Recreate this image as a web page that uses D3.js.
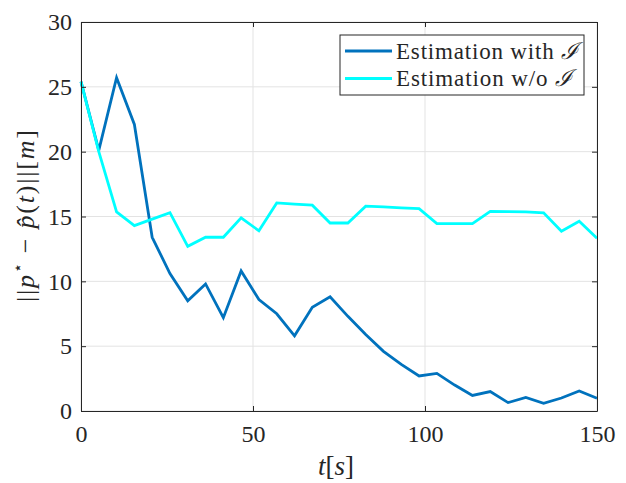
<!DOCTYPE html>
<html>
<head>
<meta charset="utf-8">
<script src="https://cdn.jsdelivr.net/npm/d3@7"></script>
<style>
  body { margin: 0; background: #fff; }
</style>
</head>
<body>
<div id="chart"></div>
<script>
const times = [0, 5.17, 10.34, 15.52, 20.69, 25.86, 31.03, 36.21, 41.38, 46.55,
  51.72, 56.90, 62.07, 67.24, 72.41, 77.59, 82.76, 87.93, 93.10, 98.28,
  103.45, 108.62, 113.79, 118.97, 124.14, 129.31, 134.48, 139.66, 144.83, 150];

const withI = [25.4, 20.1, 25.7, 22.1, 13.4, 10.6, 8.5, 9.8, 7.2, 10.8,
  8.6, 7.5, 5.8, 8.0, 8.8, 7.3, 5.9, 4.6, 3.6, 2.7,
  2.9, 2.0, 1.2, 1.5, 0.65, 1.05, 0.6, 1.0, 1.55, 0.98];

const withoutI = [25.4, 20.0, 15.35, 14.3, 14.8, 15.3, 12.7, 13.4, 13.4, 14.9,
  13.9, 16.05, 15.95, 15.87, 14.5, 14.5, 15.8, 15.75, 15.66, 15.6,
  14.45, 14.45, 14.45, 15.4, 15.38, 15.35, 15.28, 13.87, 14.63, 13.33];

const xTicks = [0, 50, 100, 150];
const yTicks = [0, 5, 10, 15, 20, 25, 30];
const seriesNames = ["Estimation with ", "Estimation w/o "];
const seriesColors = ["#0072bd", "#00ffff"];

const W = 626, H = 483;
const margin = { top: 22, right: 29, bottom: 72, left: 81 };
const iw = W - margin.left - margin.right;
const ih = H - margin.top - margin.bottom;
const font = "Liberation Serif";
const ink = "#262626";

const svg = d3.select("#chart").append("svg")
  .attr("width", W).attr("height", H);

const g = svg.append("g").attr("transform", `translate(${margin.left},${margin.top})`);

const x = d3.scaleLinear().domain([0, 150]).range([0, iw]);
const y = d3.scaleLinear().domain([0, 30]).range([ih, 0]);

// grid
g.append("g").selectAll("line").data(xTicks).enter().append("line")
  .attr("x1", d => x(d)).attr("x2", d => x(d))
  .attr("y1", 0).attr("y2", ih)
  .attr("stroke", "#e3e3e3").attr("stroke-width", 1);
g.append("g").selectAll("line").data(yTicks).enter().append("line")
  .attr("y1", d => y(d)).attr("y2", d => y(d))
  .attr("x1", 0).attr("x2", iw)
  .attr("stroke", "#e3e3e3").attr("stroke-width", 1);

// lines
const line = d3.line().x((d, i) => x(times[i])).y(d => y(d));
[withI, withoutI].forEach((s, k) => {
  g.append("path").datum(s)
    .attr("d", line)
    .attr("fill", "none")
    .attr("stroke", seriesColors[k])
    .attr("stroke-width", 2.8)
    .attr("stroke-linejoin", "miter");
});

// axes (inward ticks, box on)
const tk = 5;
const axB = g.append("g").attr("transform", `translate(0,${ih})`)
  .call(d3.axisBottom(x).tickValues(xTicks).tickSizeInner(-tk).tickSizeOuter(0).tickPadding(14));
const axT = g.append("g")
  .call(d3.axisTop(x).tickValues(xTicks).tickSizeInner(-tk).tickSizeOuter(0).tickFormat(""));
const axL = g.append("g")
  .call(d3.axisLeft(y).tickValues(yTicks).tickSizeInner(-tk).tickSizeOuter(0).tickPadding(9));
const axR = g.append("g").attr("transform", `translate(${iw},0)`)
  .call(d3.axisRight(y).tickValues(yTicks).tickSizeInner(-tk).tickSizeOuter(0).tickFormat(""));

[axB, axT, axL, axR].forEach(a => {
  a.attr("font-family", font);
  a.select(".domain").attr("stroke", ink).attr("stroke-width", 1);
  a.selectAll(".tick line").attr("stroke", ink).attr("stroke-width", 1);
  a.selectAll(".tick text").style("font-family", font)
    .attr("font-size", 24).attr("fill", ink);
});

// x label
svg.append("text")
  .attr("x", margin.left + iw / 2 - 3).attr("y", 475)
  .style("font-family", font).attr("fill", ink)
  .attr("text-anchor", "middle").attr("font-size", 27)
  .html('<tspan font-style="italic">t</tspan>[<tspan font-style="italic">s</tspan>]');

// y label
svg.append("text")
  .attr("transform", "translate(34,216) rotate(-90)")
  .style("font-family", font).attr("fill", ink)
  .attr("text-anchor", "middle").attr("font-size", 26)
  .attr("textLength", 172).attr("lengthAdjust", "spacing")
  .html('||<tspan font-style="italic">p</tspan><tspan dy="-11" font-size="16">⋆</tspan>' +
        '<tspan dy="11"> − </tspan><tspan font-style="italic">p̂</tspan>(<tspan font-style="italic">t</tspan>)||[<tspan font-style="italic">m</tspan>]');

// legend
const lg = svg.append("g").attr("transform", "translate(340,35)");
lg.append("rect").attr("width", 244).attr("height", 60)
  .attr("fill", "#fff").attr("stroke", ink).attr("stroke-width", 1);
const legendLen = [182, 176];
seriesNames.forEach((name, i) => {
  const yy = 16 + i * 27.5;
  lg.append("line").attr("x1", 5).attr("x2", 52).attr("y1", yy).attr("y2", yy)
    .attr("stroke", seriesColors[i]).attr("stroke-width", 2.8);
  lg.append("text").attr("x", 56).attr("y", yy + 7.5)
    .style("font-family", font).attr("fill", ink).attr("font-size", 23)
    .attr("textLength", legendLen[i]).attr("lengthAdjust", "spacing")
    .html(name + '<tspan font-style="italic">ℐ</tspan>');
});
</script>
</body>
</html>
